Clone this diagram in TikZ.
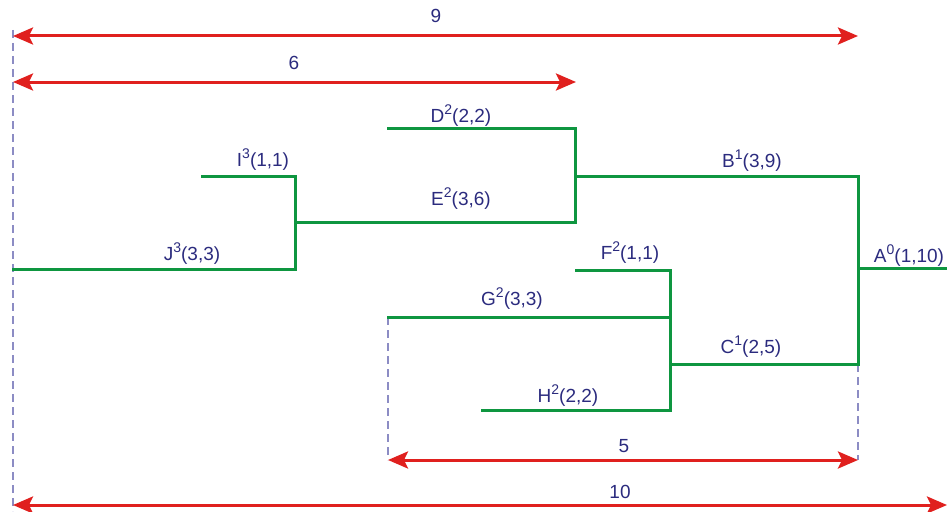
\documentclass[tikz,border=0pt]{standalone}
\usepackage{fontspec}
\setmainfont{Liberation Sans}
\usetikzlibrary{arrows.meta}
\definecolor{gr}{HTML}{0E9640}
\definecolor{rd}{HTML}{E0201E}
\definecolor{lb}{HTML}{2B2B7E}
\definecolor{dsh}{HTML}{8C8CC4}
\newcommand{\supx}[1]{\raisebox{0.42em}{\fontsize{14}{14}\selectfont #1}}
\begin{document}
\begin{tikzpicture}[x=1pt,y=-1pt,
  br/.style={draw=gr,line width=3pt,line cap=rect},
  dim/.style={draw=rd,line width=3pt,{Stealth[length=20pt,width=17pt,inset=4pt]}-{Stealth[length=20pt,width=17pt,inset=4pt]}},
  guide/.style={draw=dsh,line width=2pt,dash pattern=on 8pt off 5pt},
  lbl/.style={text=lb,font=\fontsize{19}{21}\selectfont,inner sep=0pt,anchor=base}]
\useasboundingbox (0,0) rectangle (947,511);
% coordinates
\coordinate (a0) at (858,268); \coordinate (a1) at (947,268);
\coordinate (atop) at (858,176); \coordinate (abot) at (858,364);
\coordinate (b0) at (575,176);
\coordinate (c0) at (670,364);
\coordinate (dtop) at (575,128); \coordinate (dbot) at (575,222);
\coordinate (d0) at (388,128);
\coordinate (e0) at (295,222);
\coordinate (itop) at (295,176); \coordinate (ibot) at (295,269);
\coordinate (i0) at (202,176);
\coordinate (j0) at (13,269);
\coordinate (ftop) at (670,270); \coordinate (fbot) at (670,410);
\coordinate (f0) at (576,270);
\coordinate (g1) at (670,317); \coordinate (g0) at (388,317);
\coordinate (h0) at (482,410);
% guides
\coordinate (q1) at (13,30); \coordinate (q2) at (13,511);
\coordinate (q3) at (388,460); \coordinate (q4) at (858,460);
\draw[guide] (q1) -- (q2);
\draw[guide] (g0) -- (q3);
\draw[guide] (abot) -- (q4);
% tree
\draw[br] (a0) -- (a1);
\draw[br] (atop) -- (abot);
\draw[br] (b0) -- (atop);
\draw[br] (c0) -- (abot);
\draw[br] (dtop) -- (dbot);
\draw[br] (d0) -- (dtop);
\draw[br] (e0) -- (dbot);
\draw[br] (itop) -- (ibot);
\draw[br] (i0) -- (itop);
\draw[br] (j0) -- (ibot);
\draw[br] (ftop) -- (fbot);
\draw[br] (f0) -- (ftop);
\draw[br] (g0) -- (g1);
\draw[br] (h0) -- (fbot);
% labels
\node[lbl] (la) at (909,262) {A\supx{0}(1,10)};
\node[lbl] (lb) at (752,167) {B\supx{1}(3,9)};
\node[lbl] (lc) at (751,353) {C\supx{1}(2,5)};
\node[lbl] (ld) at (461,122) {D\supx{2}(2,2)};
\node[lbl] (le) at (461,205) {E\supx{2}(3,6)};
\node[lbl] (li) at (263,166) {I\supx{3}(1,1)};
\node[lbl] (lj) at (192,260) {J\supx{3}(3,3)};
\node[lbl] (lf) at (630,259) {F\supx{2}(1,1)};
\node[lbl] (lg) at (512,305) {G\supx{2}(3,3)};
\node[lbl] (lh) at (568,402) {H\supx{2}(2,2)};
% dimension arrows
\coordinate (r9a) at (13,36); \coordinate (r9b) at (858,36);
\coordinate (r6a) at (13,82); \coordinate (r6b) at (576,82);
\coordinate (r5a) at (388,460); \coordinate (r5b) at (858,460);
\coordinate (r10a) at (13,505); \coordinate (r10b) at (947,505);
\draw[dim] (r9a) -- (r9b);
\draw[dim] (r6a) -- (r6b);
\draw[dim] (r5a) -- (r5b);
\draw[dim] (r10a) -- (r10b);
\node[lbl] (n9) at (436,23) {9};
\node[lbl] (n6) at (294,70) {6};
\node[lbl] (n5) at (624,452) {5};
\node[lbl] (n10) at (620,498) {10};
\end{tikzpicture}
\end{document}
